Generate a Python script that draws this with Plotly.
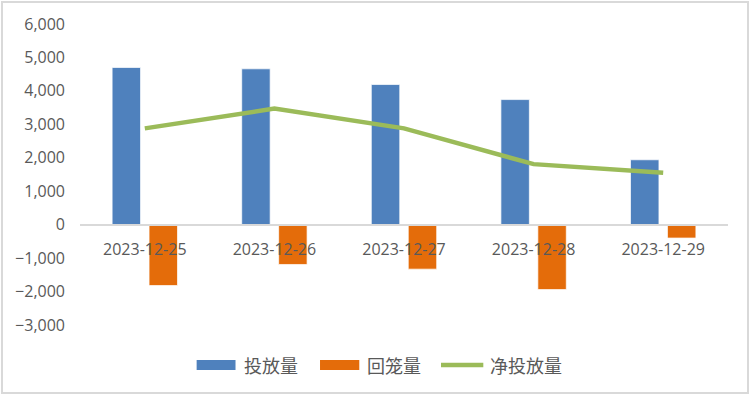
import plotly.graph_objects as go

categories = ["2023-12-25", "2023-12-26", "2023-12-27", "2023-12-28", "2023-12-29"]
touf = [4700, 4660, 4190, 3740, 1940]          # 投放量
huil = [-1820, -1190, -1330, -1940, -400]      # 回笼量
jing = [2880, 3470, 2880, 1810, 1550]          # 净投放量
y_ticks = [-3000, -2000, -1000, 0, 1000, 2000, 3000, 4000, 5000, 6000]
series_names = ["投放量", "回笼量", "净投放量"]

BLUE, ORANGE, GREEN, TXT = "#4F81BD", "#E46C0A", "#9BBB59", "#595959"

fig = go.Figure()
fig.add_trace(go.Bar(x=categories, y=touf, name=series_names[0], marker_color=BLUE,
                     marker_line=dict(color="rgba(255,255,255,0.7)", width=1)))
fig.add_trace(go.Bar(x=categories, y=huil, name=series_names[1], marker_color=ORANGE,
                     marker_line=dict(color="rgba(255,255,255,0.7)", width=1)))
fig.add_trace(go.Scatter(x=categories, y=jing, name=series_names[2], mode="lines",
                         line=dict(color=GREEN, width=4.5)))

fig.update_layout(
    width=751, height=397,
    margin=dict(l=80, r=23, t=24, b=72),
    paper_bgcolor="white", plot_bgcolor="white",
    barmode="group", bargap=0.43, bargroupgap=0.23,
    showlegend=False,
    font=dict(family="Open Sans, Liberation Sans, sans-serif", color=TXT, size=16),
)
fig.update_xaxes(type="category", anchor="free", position=1/3,
                 showline=True, linecolor="#D9D9D9", linewidth=1.5,
                 showgrid=False, zeroline=False, ticks="",
                 ticklabelstandoff=10,
                 tickfont=dict(size=16, color=TXT))
fig.update_yaxes(range=[-3000, 6000], tickvals=y_ticks, tickformat=",",
                 showgrid=False, zeroline=False, showline=False, ticks="",
                 ticklabelstandoff=14,
                 tickfont=dict(size=16, color=TXT))

# outer chart border
fig.add_shape(type="rect", xref="paper", yref="paper",
              x0=-0.1204, x1=1.0309, y0=-0.2259, y1=1.0731,
              line=dict(color="#D9D9D9", width=2), fillcolor="rgba(0,0,0,0)", layer="below")

# custom legend
ly = -0.1329
fig.add_shape(type="rect", xref="paper", yref="paper", x0=0.180, x1=0.240,
              y0=ly - 0.0166, y1=ly + 0.0166, fillcolor=BLUE, line=dict(width=0))
fig.add_shape(type="rect", xref="paper", yref="paper", x0=0.3704, x1=0.4310,
              y0=ly - 0.0166, y1=ly + 0.0166, fillcolor=ORANGE, line=dict(width=0))
fig.add_shape(type="line", xref="paper", yref="paper", x0=0.5571, x1=0.6224,
              y0=ly, y1=ly, line=dict(color=GREEN, width=4.5))
for xp, name in zip([0.2495, 0.4398, 0.6296], series_names):
    fig.add_annotation(x=xp, y=ly, xref="paper", yref="paper", text=name,
                       showarrow=False, xanchor="left", yanchor="middle",
                       font=dict(family="Noto Sans CJK SC", size=18, color=TXT))

fig.write_html("out.html", config={"displayModeBar": False},
               post_script="document.body.style.margin='0px';")
